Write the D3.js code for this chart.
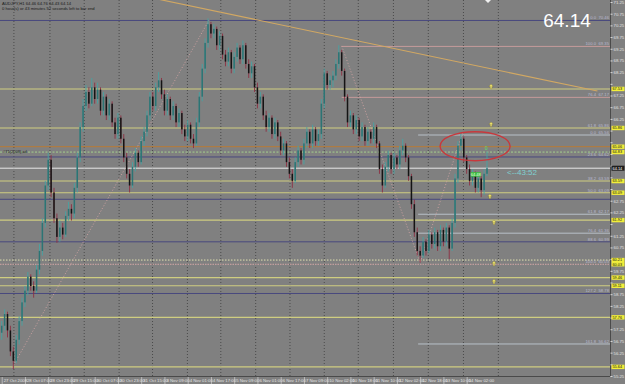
<!DOCTYPE html>
<html lang="en">
<head>
<meta charset="utf-8">
<title>AUDJPY,H1 - D3 chart</title>
<script src="https://cdn.jsdelivr.net/npm/d3@7"></script>
<style>
  html, body { margin: 0; padding: 0; background: #808080; }
  svg { display: block; }
  text { font-family: "Liberation Sans", Arial, sans-serif; }
</style>
</head>
<body>
<div id="chart"></div>
<script>
// 2-hour candles: [open, high, low, close]
var bars = [
  [57.10,57.60,56.80,57.40],[57.40,58.10,57.20,57.90],[57.90,58.00,56.90,57.20],[57.20,57.40,56.10,56.30],
  [56.30,56.50,55.55,55.90],[55.90,57.00,55.80,56.80],[56.80,57.80,56.60,57.60],[57.60,58.60,57.40,58.40],
  [58.40,59.10,58.20,58.90],[58.90,59.70,58.70,59.50],[59.50,59.60,58.90,59.10],[59.10,59.30,58.60,58.90],
  [58.90,60.00,58.80,59.80],[59.80,60.90,59.60,60.60],[60.60,62.00,60.40,61.80],[61.80,63.60,61.60,63.40],
  [63.40,64.80,63.20,64.50],[64.50,64.70,62.90,63.10],[63.10,63.30,61.80,62.00],[62.00,62.20,60.95,61.20],
  [61.20,61.90,61.00,61.60],[61.60,61.80,61.10,61.30],[61.30,62.30,61.20,62.10],[62.10,62.70,61.90,62.40],
  [62.40,62.60,61.90,62.20],[62.20,63.50,62.00,63.30],[63.30,64.80,63.10,64.60],[64.60,66.10,64.40,65.90],
  [65.90,67.10,65.70,66.80],[66.80,67.70,66.60,67.40],[67.40,67.60,66.70,66.90],[66.90,68.00,66.80,67.60],
  [67.60,67.80,66.90,67.10],[67.10,67.80,66.90,67.50],[67.50,67.60,66.40,66.60],[66.60,67.40,66.40,67.20],
  [67.20,67.30,66.20,66.40],[66.40,67.10,66.20,66.90],[66.90,67.00,65.90,66.10],[66.10,66.30,65.40,65.60],
  [65.60,66.50,65.40,66.30],[66.30,66.40,65.20,65.40],[65.40,65.60,64.40,64.60],[64.60,64.80,63.70,63.90],
  [63.90,64.10,63.10,63.40],[63.40,64.40,63.30,64.20],[64.20,65.00,64.00,64.80],[64.80,64.90,64.20,64.40],
  [64.40,65.50,64.30,65.30],[65.30,65.90,65.10,65.70],[65.70,66.60,65.50,66.40],[66.40,67.40,66.20,67.20],
  [67.20,67.40,66.60,66.80],[66.80,67.80,66.60,67.60],[67.60,68.25,67.40,67.90],[67.90,68.00,67.10,67.30],
  [67.30,67.50,66.40,66.60],[66.60,67.30,66.40,67.10],[67.10,67.20,66.20,66.40],[66.40,67.00,66.20,66.80],
  [66.80,66.90,65.90,66.10],[66.10,66.70,65.90,66.50],[66.50,66.60,65.60,65.80],[65.80,66.00,65.30,65.50],
  [65.50,66.20,65.30,66.00],[66.00,66.10,65.20,65.40],[65.40,65.60,65.00,65.20],[65.20,66.30,65.10,66.10],
  [66.10,67.40,65.90,67.20],[67.20,68.60,67.00,68.40],[68.40,69.70,68.20,69.50],[69.50,70.55,69.30,70.30],
  [70.30,70.40,69.70,69.90],[69.90,70.30,69.70,70.10],[70.10,70.20,69.20,69.40],[69.40,70.00,69.20,69.80],
  [69.80,69.90,68.80,69.00],[69.00,69.20,68.50,68.70],[68.70,69.30,68.50,69.10],[69.10,69.20,68.20,68.40],
  [68.40,69.10,68.20,68.90],[68.90,69.50,68.70,69.30],[69.30,69.40,68.60,68.80],[68.80,69.60,68.60,69.40],
  [69.40,69.50,68.40,68.60],[68.60,68.80,68.00,68.20],[68.20,68.70,68.00,68.50],[68.50,68.60,67.40,67.60],
  [67.60,67.80,66.70,66.90],[66.90,67.40,66.70,67.20],[67.20,67.30,66.20,66.40],[66.40,66.60,65.70,65.90],
  [65.90,66.50,65.70,66.30],[66.30,66.40,65.40,65.60],[65.60,66.30,65.40,66.10],[66.10,66.20,65.30,65.50],
  [65.50,65.70,64.70,64.90],[64.90,65.40,64.70,65.20],[65.20,65.30,64.20,64.40],[64.40,64.60,63.70,63.90],
  [63.90,64.10,63.30,63.60],[63.60,64.60,63.50,64.40],[64.40,65.10,64.20,64.90],[64.90,65.00,64.30,64.50],
  [64.50,65.40,64.30,65.20],[65.20,65.90,65.00,65.70],[65.70,65.80,65.00,65.20],[65.20,66.00,65.00,65.80],
  [65.80,65.90,65.10,65.30],[65.30,65.80,65.10,65.60],[65.60,67.10,65.40,66.90],[66.90,68.40,66.70,68.20],
  [68.20,68.30,67.50,67.70],[67.70,68.10,67.50,67.90],[67.90,68.30,67.60,68.10],[68.10,68.80,67.90,68.60],
  [68.60,69.40,68.40,69.10],[69.10,69.20,68.10,68.30],[68.30,68.40,67.00,67.20],[67.20,67.30,65.90,66.10],
  [66.10,66.60,65.90,66.40],[66.40,66.50,65.60,65.80],[65.80,66.40,65.60,66.20],[66.20,66.30,65.30,65.50],
  [65.50,66.10,65.30,65.90],[65.90,66.00,65.10,65.30],[65.30,65.90,65.10,65.70],[65.70,65.80,65.20,65.40],
  [65.40,66.10,65.20,65.90],[65.90,66.00,65.00,65.20],[65.20,65.30,63.90,64.10],[64.10,64.30,63.10,63.40],
  [63.40,64.40,63.30,64.20],[64.20,64.90,64.00,64.70],[64.70,64.80,63.90,64.10],[64.10,64.80,63.90,64.60],
  [64.60,64.70,64.10,64.30],[64.30,65.10,64.10,64.90],[64.90,65.40,64.70,65.10],[65.10,65.20,64.40,64.60],
  [64.60,64.70,63.60,63.80],[63.80,63.90,62.40,62.60],[62.60,62.80,61.20,61.40],[61.40,61.60,60.40,60.60],
  [60.60,60.80,60.10,60.40],[60.40,61.20,60.30,61.00],[61.00,61.10,60.40,60.60],[60.60,61.50,60.50,61.30],
  [61.30,61.40,60.70,60.90],[60.90,61.60,60.70,61.40],[61.40,61.50,60.60,60.80],[60.80,61.70,60.60,61.50],
  [61.50,61.60,60.80,61.00],[61.00,61.80,60.80,61.60],[61.60,61.70,60.25,60.70],[60.70,62.00,60.60,61.80],
  [61.80,63.90,61.60,63.70],[63.70,65.30,63.50,65.10],[65.10,65.70,64.90,65.40],[65.40,65.50,64.40,64.60],
  [64.60,64.70,63.90,64.10],[64.10,64.30,63.40,63.60],[63.60,64.10,63.40,63.90],[63.90,64.00,63.10,63.30],
  [63.30,63.90,63.10,63.70],[63.70,63.80,62.90,63.20],[63.20,64.10,63.00,63.90],[63.90,64.85,63.80,64.14]
];

var timeLabels = ["27 Oct 2008","28 Oct 07:00","28 Oct 23:00","29 Oct 15:00","30 Oct 07:00","30 Oct 23:00",
  "31 Oct 15:00","3 Nov 09:00","4 Nov 01:00","4 Nov 17:00","5 Nov 09:00","6 Nov 01:00","6 Nov 17:00",
  "7 Nov 09:00","10 Nov 02:00","10 Nov 18:00","11 Nov 10:00","12 Nov 02:00","12 Nov 18:00","13 Nov 10:00",
  "14 Nov 02:00"];
var barsPerLabel = 8;

// day separators (grid), in bar units
var dayStarts = [4.2, 16.6, 28.4, 40.4, 51.9, 63.9, 75.4, 87.4, 99.2, 111.0, 122.7, 134.8, 146.8, 158.9, 170.9];

var priceTicks = d3.range(55.25, 71.26, 0.5);

// horizontal levels
var yellowLevels = [67.53, 65.86, 63.59, 63.09, 61.92, 59.46, 59.11, 57.76, 55.64];
var navyLevels = [70.46, 64.62, 62.81, 60.99, 58.78];
var orangeLevel = 65.06;
var greenLevel = 64.83;
var bidPrice = 64.14;
var dottedLevels = [60.21, 60.03];

// fibo lines that start at a bar
var pinkFibStart = 117;
var pinkFibLevels = [69.35, 67.17];
var grayFibStart = 143.3;
var grayFibLevels = [65.56, 62.17, 61.36, 56.62];

// level captions near the right edge: [price, level, value]
var fibCaptions = [
  [70.46, "0.0", "70.46"], [69.35, "100.0", "69.35"], [67.17, "76.4", "67.17"], [65.86, "61.8", "65.86"],
  [65.56, "0.0", "65.56"], [64.62, "23.6", "64.62"], [63.59, "38.2", "63.59"], [63.09, "50.0", "63.09"],
  [62.17, "61.8", "62.17"], [61.36, "76.4", "61.36"], [60.99, "88.6", "60.99"], [60.03, "100.0", "60.03"],
  [58.78, "127.2", "58.78"], [56.62, "161.8", "56.62"]
];

// trend line and zigzag, as [bar, price]
var trendLine = [[20, 72.25], [205, 67.44]];
var zigzagA = [[3.5, 55.59], [71.7, 70.55]];
var zigzagB = [[117, 69.37], [144, 60.10], [158.7, 65.69]];

// yellow arrow marks, as [bar, price]
var arrows = [[168.4, 67.61], [168.4, 65.99], [168.0, 62.91], [169.4, 61.80], [169.4, 60.04], [169.4, 59.27]];

var width = 625, height = 384;
var plotW = 610, plotH = 376;

var x = d3.scaleLinear().domain([0, bars.length - 1]).range([1.7, 487]);
var y = d3.scaleLinear().domain([55.25, 71.25]).range([376, 2]);

var svg = d3.select("#chart").append("svg")
  .attr("width", width)
  .attr("height", height);

svg.append("rect").attr("width", width).attr("height", height).attr("fill", "#808080");

svg.append("defs").append("clipPath").attr("id", "plot")
  .append("rect").attr("width", plotW).attr("height", plotH);

var plot = svg.append("g").attr("clip-path", "url(#plot)");

// grid
plot.selectAll("line.grid").data(dayStarts).enter().append("line")
  .attr("x1", function (d) { return x(d); }).attr("x2", function (d) { return x(d); })
  .attr("y1", 0).attr("y2", plotH)
  .attr("stroke", "#3c3c3c").attr("stroke-width", 0.8).attr("stroke-dasharray", "1,2");

function hline(price, color, w, dash, fromBar) {
  var ln = plot.append("line")
    .attr("x1", fromBar == null ? 0 : x(fromBar)).attr("x2", plotW)
    .attr("y1", y(price)).attr("y2", y(price))
    .attr("stroke", color).attr("stroke-width", w);
  if (dash) ln.attr("stroke-dasharray", dash);
}

navyLevels.forEach(function (p) { hline(p, "#48487e", 1); });
yellowLevels.forEach(function (p) { hline(p, "#cfcd80", 1.1); });
hline(orangeLevel, "#b87a36", 1);
hline(greenLevel, "#a4d08c", 1, "2,1.5");
hline(dottedLevels[0], "#e0e0b0", 1, "1.5,1.5");
hline(dottedLevels[1], "#d4a6a6", 1, "1.5,1");
pinkFibLevels.forEach(function (p) { hline(p, "#c49a9a", 1, null, pinkFibStart); });
grayFibLevels.forEach(function (p) { hline(p, "#b8c0c8", 1, null, grayFibStart); });
hline(bidPrice, "#e8e8e8", 1);

var line = d3.line().x(function (d) { return x(d[0]); }).y(function (d) { return y(d[1]); });

plot.append("path").attr("d", line(trendLine))
  .attr("fill", "none").attr("stroke", "#d2a862").attr("stroke-width", 1.1);

[zigzagA, zigzagB].forEach(function (z) {
  plot.append("path").attr("d", line(z))
    .attr("fill", "none").attr("stroke", "#d4a4a4").attr("stroke-width", 0.9)
    .attr("stroke-dasharray", "1,2");
});

// candles
var bw = 1.5;
var candle = plot.selectAll("g.bar").data(bars).enter().append("g");
candle.append("line")
  .attr("x1", function (d, i) { return x(i); }).attr("x2", function (d, i) { return x(i); })
  .attr("y1", function (d) { return y(d[1]); }).attr("y2", function (d) { return y(d[2]); })
  .attr("stroke", function (d) { return d[3] >= d[0] ? "#45a3a3" : "#8c2f42"; })
  .attr("stroke-width", 0.9);
candle.append("rect")
  .attr("x", function (d, i) { return x(i) - bw / 2; })
  .attr("width", bw)
  .attr("y", function (d) { return y(Math.max(d[0], d[3])); })
  .attr("height", function (d) { return Math.max(0.8, Math.abs(y(d[0]) - y(d[3]))); })
  .attr("fill", function (d) { return d[3] >= d[0] ? "#2c7474" : "#141414"; });

// fibo captions
var cap = plot.selectAll("g.cap").data(fibCaptions).enter().append("g")
  .attr("transform", function (d) { return "translate(0," + (y(d[0]) - 1) + ")"; })
  .attr("font-size", 4.2).attr("fill", "#b9b9d0");
cap.append("text").attr("x", 596).attr("text-anchor", "end").text(function (d) { return d[1]; });
cap.append("text").attr("x", 609).attr("text-anchor", "end").text(function (d) { return d[2]; });

// arrows
var arrowPath = "M0,-3 L2.2,-0.6 L0.8,-0.6 L0.8,1.6 L-0.8,1.6 L-0.8,-0.6 L-2.2,-0.6 Z";
plot.selectAll("path.arrow").data(arrows).enter().append("path")
  .attr("d", arrowPath)
  .attr("transform", function (d) { return "translate(" + x(d[0]) + "," + y(d[1]) + ")"; })
  .attr("fill", "#e8e070").attr("stroke", "#807020").attr("stroke-width", 0.3);

// annotation ellipse around the recent top
svg.append("ellipse")
  .attr("cx", x(162.9)).attr("cy", y(65.08))
  .attr("rx", 35).attr("ry", 14.5)
  .attr("fill", "none").attr("stroke", "#c8383c").attr("stroke-width", 1.4);

// small labels near the last bars
svg.append("rect").attr("x", x(161.4)).attr("y", y(63.97)).attr("width", 10).attr("height", 4.5).attr("fill", "#3cc040");
svg.append("text").attr("x", x(161.4) + 5).attr("y", y(63.97) + 3.8).attr("text-anchor", "middle")
  .attr("font-size", 4).attr("fill", "#e8ffe0").text("64.48");
svg.append("text").attr("x", x(166.7)).attr("y", y(64.90)).attr("text-anchor", "middle")
  .attr("font-size", 5).attr("fill", "#60e060").text("0");
svg.append("text").attr("x", 507).attr("y", y(bidPrice) + 6.5)
  .attr("font-size", 8).attr("fill", "#7fd0d0").text("<--43:52");

// chart-shift marker
svg.append("path").attr("d", "M485,0 L491,0 L488,3 Z").attr("fill", "#f0f0f0");

// top-left info
svg.append("text").attr("x", 2).attr("y", 5).attr("font-size", 4.2).attr("fill", "#1a1a1a")
  .text("AUDJPY,H1  64.46 64.76 64.43 64.14");
svg.append("text").attr("x", 2).attr("y", 9.5).attr("font-size", 4.2).attr("fill", "#1a1a1a")
  .text("0 hour(s) or 43 minutes 52 seconds left to bar end");
svg.append("text").attr("x", 3).attr("y", y(greenLevel) + 0.5).attr("font-size", 4).attr("fill", "#1a1a1a")
  .text("#71(2008),ad");

// big price
svg.append("text").attr("x", 567).attr("y", 27).attr("text-anchor", "middle")
  .attr("font-size", 19).attr("fill", "#ffffff").text("64.14");

// frame
svg.append("line").attr("x1", plotW + 0.5).attr("x2", plotW + 0.5).attr("y1", 0).attr("y2", plotH)
  .attr("stroke", "#4a4a4a").attr("stroke-width", 1);
svg.append("line").attr("x1", 0).attr("x2", plotW).attr("y1", plotH + 0.5).attr("y2", plotH + 0.5)
  .attr("stroke", "#4a4a4a").attr("stroke-width", 1);

// price boxes on the axis
var boxLevels = yellowLevels.concat([orangeLevel, greenLevel], dottedLevels);
var allBoxes = boxLevels.concat([bidPrice]);

// price axis; tick labels hidden under a price box are left out, as in the terminal
var yAxis = d3.axisRight(y).tickValues(priceTicks).tickFormat(d3.format(".2f")).tickSize(2);
var ya = svg.append("g").attr("transform", "translate(" + (plotW + 0.5) + ",0)").call(yAxis);
ya.select(".domain").remove();
ya.selectAll("line").attr("stroke", "#d8d8d8");
ya.selectAll("text").attr("x", 3).attr("font-size", 4.3).attr("fill", "#e0e0e0")
  .attr("font-family", "Liberation Sans, Arial, sans-serif");
ya.selectAll(".tick").filter(function (d) {
  return allBoxes.some(function (b) { return Math.abs(y(b) - y(d)) < 5.5; });
}).select("text").remove();

var box = svg.selectAll("g.box").data(boxLevels).enter().append("g")
  .attr("transform", function (d) { return "translate(" + (plotW + 1.5) + "," + y(d) + ")"; });
box.append("rect").attr("x", 0).attr("y", -2.2).attr("width", 13).attr("height", 4.4).attr("fill", "#f2ee3a");
box.append("text").attr("x", 1).attr("y", 1.4).attr("font-size", 3.8).attr("fill", "#111").text(function (d) { return d.toFixed(2); });

var bidBox = svg.append("g").attr("transform", "translate(" + (plotW + 1.5) + "," + y(bidPrice) + ")");
bidBox.append("rect").attr("x", 0).attr("y", -2.5).attr("width", 13).attr("height", 5).attr("fill", "#1e1e1e");
bidBox.append("text").attr("x", 1).attr("y", 1.5).attr("font-size", 3.9).attr("fill", "#ffffff").text(bidPrice.toFixed(2));

// time axis
var xAxis = d3.axisBottom(x)
  .tickValues(timeLabels.map(function (d, i) { return i * barsPerLabel; }))
  .tickFormat(function (d) { return timeLabels[d / barsPerLabel]; })
  .tickSize(7);
var xa = svg.append("g").attr("transform", "translate(0," + (plotH + 1) + ")").call(xAxis);
xa.select(".domain").remove();
xa.selectAll("line").attr("stroke", "#e0e0e0").attr("stroke-width", 0.6);
xa.selectAll("text").attr("x", 1.5).attr("y", 5.3).attr("dy", 0).attr("text-anchor", "start")
  .attr("font-size", 4.3).attr("fill", "#e6e6e6")
  .attr("font-family", "Liberation Sans, Arial, sans-serif");
</script>
</body>
</html>
